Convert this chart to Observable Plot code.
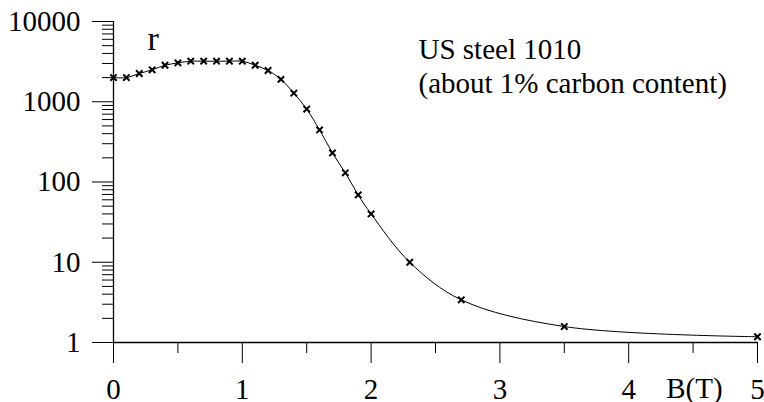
<!DOCTYPE html>
<html>
<head>
<meta charset="utf-8">
<script src="https://cdn.jsdelivr.net/npm/d3@7"></script>
<script src="https://cdn.jsdelivr.net/npm/@observablehq/plot@0.6"></script>
<style>
  html, body { margin: 0; padding: 0; background: #fff; }
  #chart svg, #chart svg text { font-family: "Liberation Serif", "Times New Roman", serif !important; }
</style>
</head>
<body>
<div id="chart"></div>
<script>
// Field B (T) and ratio r
const B = [0, 0.1, 0.2, 0.3, 0.4, 0.5, 0.6, 0.7, 0.8, 0.9, 1.0, 1.1, 1.2, 1.3, 1.4,
           1.5, 1.6, 1.7, 1.8, 1.9, 2.0, 2.3, 2.7, 3.5, 5.0];
const r = [2000, 2000, 2250, 2500, 2850, 3050, 3200, 3200, 3200, 3200, 3200, 2850, 2450, 1900, 1280,
           810, 445, 230, 130, 69, 40, 10, 3.4, 1.58, 1.18];

const xMajor = [0, 1, 2, 3, 4, 5];
const xMinor = [0.5, 1.5, 2.5, 3.5, 4.5];
const yMajor = [1, 10, 100, 1000, 10000];
const yMinor = [2,3,4,5,6,7,8,9, 20,30,40,50,60,70,80,90, 200,300,400,500,600,700,800,900, 2000,3000,4000,5000,6000,7000,8000,9000];

const yLabel = "r";
const xLabel = "B(T)";
const note = "US steel 1010\n(about 1% carbon content)";

const data = B.map((b, i) => ({B: b, r: r[i]}));
const serif = "Liberation Serif";

const chart = Plot.plot({
  width: 764,
  height: 402,
  marginLeft: 113,
  marginRight: 7,
  marginTop: 21,
  marginBottom: 60,
  x: {domain: [0, 5]},
  y: {type: "log", domain: [1, 10000]},
  style: {fontFamily: serif, fontSize: "29px", color: "black", background: "white"},
  marks: [
    Plot.axisY({ticks: yMajor, tickSize: 21, tickPadding: 12, tickFormat: d => String(d), label: null, fontSize: 29, fontFamily: serif}),
    Plot.axisY({ticks: yMinor, tickSize: 11, tickFormat: () => "", label: null}),
    Plot.axisX({ticks: xMajor, tickSize: 21, tickPadding: 15, tickFormat: d => String(d), label: null, fontSize: 29, fontFamily: serif}),
    Plot.axisX({ticks: xMinor, tickSize: 11, tickFormat: () => "", label: null}),
    Plot.ruleX([0], {stroke: "black", strokeWidth: 1.3}),
    Plot.ruleY([1], {stroke: "black", strokeWidth: 1.3}),
    Plot.line(data, {x: "B", y: "r", curve: "catmull-rom", stroke: "black", strokeWidth: 1}),
    Plot.dot(data, {x: "B", y: "r", symbol: "times", r: 3, stroke: "black", strokeWidth: 2}),
    Plot.text([yLabel], {text: d => d, frameAnchor: "top-left", textAnchor: "start", lineAnchor: "top", dx: 34, dy: 4, fontSize: 34, fontFamily: serif}),
    Plot.text([note], {text: d => d, frameAnchor: "top-left", textAnchor: "start", lineAnchor: "top", dx: 305, dy: 13, fontSize: 29, lineHeight: 1.17, fontFamily: serif}),
    Plot.text([xLabel], {text: d => d, x: () => 4.51, frameAnchor: "bottom", textAnchor: "middle", lineAnchor: "top", dy: 35, fontSize: 29, fontFamily: serif})
  ]
});
document.getElementById("chart").appendChild(chart);
</script>
</body>
</html>
